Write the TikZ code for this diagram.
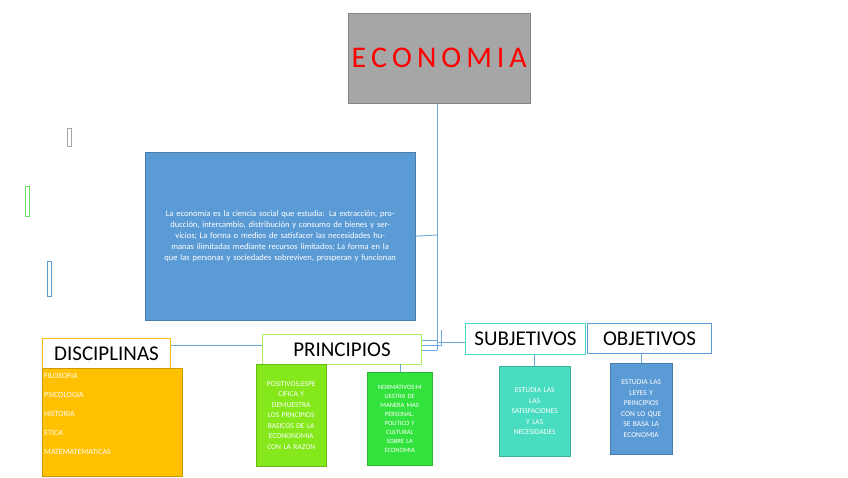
\documentclass[tikz,border=0pt]{standalone}
\usepackage{fontspec}
\setmainfont{Carlito}
\begin{document}
\begin{tikzpicture}[x=1pt,y=-1pt,
  hdr/.style={draw=#1,line width=1pt,fill=white,inner sep=0pt,font=\fontsize{21}{21}\selectfont},
  body/.style={fill=#1,draw=#1!80!black,line width=0.4pt,inner sep=1pt,text=white,font=\fontsize{7.5}{10.5}\selectfont,align=center},
  ln/.style={draw=blue!35!cyan!60!gray,line width=0.8pt}]
\useasboundingbox (0,0) rectangle (848,477);
\definecolor{eg}{HTML}{A6A6A6}
\definecolor{bl}{HTML}{5B9BD5}
\definecolor{og}{HTML}{FFC000}
\definecolor{lm}{HTML}{84E81A}
\definecolor{gn}{HTML}{33E33D}
\definecolor{tq}{HTML}{48DCC0}
\definecolor{ln}{HTML}{6FA8DC}
\tikzset{ln/.style={draw=ln,line width=0.9pt}}
% small rectangles
\draw[eg,line width=0.8pt] (67,128) rectangle (71,146);
\draw[green!80!black!60,line width=0.8pt] (25,186) rectangle (29,216);
\draw[bl,line width=0.8pt] (47,261) rectangle (51,296);
% connectors
\coordinate (t) at (437,103);
\coordinate (b) at (437,350);
\path[ln] (t) -- (b);
\node[draw=eg!80!black,fill=eg,minimum width=177pt,minimum height=90pt,anchor=north west,text=red,font=\fontsize{30}{30}\selectfont] (eco) at (348,13) {E\,C\,O\,N\,O\,M\,I\,A};
\node[body=bl,minimum width=270pt,minimum height=168pt,anchor=north west,text width=262pt,font=\fontsize{8.5}{11}\selectfont,yshift=0pt] (def) at (145,152) {La economía es la ciencia social que estudia: La extracción, producción, intercambio, distribución y consumo de bienes y servicios; La forma o medios de satisfacer las necesidades humanas ilimitadas mediante recursos limitados; La forma en la que las personas y sociedades sobreviven, prosperan y funcionan\\[22pt]};
\path[ln] (def.east) -- (437,235);
\node[hdr=og,minimum width=128pt,minimum height=30pt,anchor=north west] (dis) at (42,338) {DISCIPLINAS};
\node[hdr=lm!70!white,minimum width=159pt,minimum height=30pt,anchor=north west] (pri) at (262,334) {PRINCIPIOS};
\node[hdr=tq,minimum width=120pt,minimum height=31pt,anchor=north west] (sub) at (465,323) {SUBJETIVOS};
\node[hdr=bl,minimum width=124pt,minimum height=30pt,anchor=north west] (obj) at (587,323) {OBJETIVOS};
\path[ln] (dis.east|-0,345) -- (pri.west|-0,345);
\path[ln] (pri.east|-0,340) -- (437,340);
\path[ln] (pri.east|-0,345) -- (441,345) -- (441,330);
\path[ln] (pri.east|-0,350) -- (b);
\path[ln] (437,342) -- (sub.west|-0,342);
\path[ln] (400,364) -- (400,372);
\path[ln] (534,354) -- (534,366);
\path[ln] (641,353) -- (641,363);
\node[body=og,minimum width=140pt,minimum height=108pt,anchor=north west,align=left,text width=136pt,font=\fontsize{8}{19}\selectfont] (disb) at (42,368) {FILOSOFIA\\PSICOLOGIA\\HISTORIA\\ETICA\\MATEMATEMATICAS\\[-2pt]\mbox{}};
\node[body=lm,minimum width=70pt,minimum height=102pt,anchor=north west,text width=68pt] (pos) at (256,364) {POSITIVOS:ESPE\\CIFICA Y\\DEMUESTRA\\LOS PRNCIPIOS\\BASICOS DE LA\\ECONONOMIA\\CON LA RAZON\\[16pt]};
\node[body=gn,minimum width=65pt,minimum height=93pt,anchor=north west,text width=63pt,font=\fontsize{6.5}{9}\selectfont] (nor) at (367,372) {NORMATIVOS:M\\UESTRA DE\\MANERA MAS\\PERSONAL,\\POLITICO Y\\CULTURAL\\SOBRE LA\\ECONOMIA\\[4pt]};
\node[body=tq,minimum width=71pt,minimum height=90pt,anchor=north west,text width=69pt] (subb) at (499,366) {ESTUDIA LAS\\LAS\\SATISFACIONES\\Y LAS\\NECESIDADES\\[14pt]};
\node[body=bl,minimum width=62pt,minimum height=91pt,anchor=north west,text width=60pt] (objb) at (610,363) {ESTUDIA LAS\\LEYES Y\\PRINCIPIOS\\CON LO QUE\\SE BASA LA\\ECONOMIA\\[12pt]};
\end{tikzpicture}
\end{document}
